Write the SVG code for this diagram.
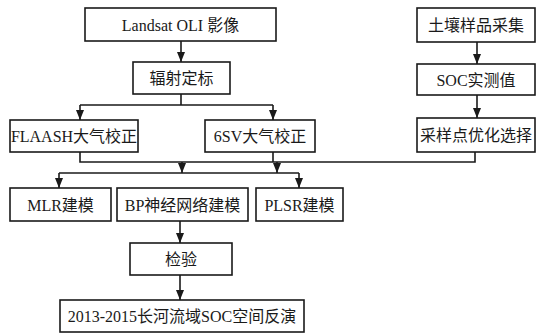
<svg xmlns="http://www.w3.org/2000/svg" width="537" height="334" viewBox="0 0 537 334">
<style>
.box{fill:#fff;stroke:#1a1a1a;stroke-width:1.6}
.t{font-family:"Liberation Serif","Noto Sans CJK SC",serif;font-size:16px;fill:#1a1a1a;text-anchor:middle}
.c{fill:none;stroke:#1a1a1a;stroke-width:1.6}
.a{marker-end:url(#arr)}
</style>
<defs>
<marker id="arr" markerUnits="userSpaceOnUse" markerWidth="10" markerHeight="10" viewBox="0 0 10 10" refX="10" refY="5" orient="auto">
<path d="M0,1 L10,5 L0,9 Z" fill="#1a1a1a"/>
</marker>
</defs>
<rect width="537" height="334" fill="#fff"/>
<g id="connectors">
<path class="c a" d="M181 41 V62"/>
<path class="c" d="M181 94 V105 M80 105 H273"/>
<path class="c a" d="M80 105 V120"/>
<path class="c a" d="M273 105 V120"/>
<path class="c" d="M80 152 V162 H475 V152 M273 152 V162"/>
<path class="c a" d="M182 162 V173"/>
<path class="c a" d="M277 162 V173"/>
<path class="c" d="M59 173 H299"/>
<path class="c a" d="M59 173 V188"/>
<path class="c a" d="M299 173 V188"/>
<path class="c a" d="M180 221 V243"/>
<path class="c a" d="M180 275 V300"/>
<path class="c a" d="M477 42 V64"/>
<path class="c a" d="M477 95 V118"/>
</g>
<g id="landsat"><rect class="box" x="85" y="8" width="191" height="33"/><text class="t" x="180.5" y="30.5">Landsat OLI 影像</text></g>
<g id="calib"><rect class="box" x="133" y="62" width="97" height="32"/><text class="t" x="181.5" y="84">辐射定标</text></g>
<g id="flaash"><rect class="box" x="10" y="120" width="128" height="32"/><text class="t" x="74" y="142">FLAASH大气校正</text></g>
<g id="sixsv"><rect class="box" x="205" y="120" width="110" height="32"/><text class="t" x="260" y="142">6SV大气校正</text></g>
<g id="soil"><rect class="box" x="417" y="8" width="118" height="34"/><text class="t" x="476" y="31">土壤样品采集</text></g>
<g id="socm"><rect class="box" x="417" y="64" width="118" height="31"/><text class="t" x="476" y="85.5">SOC实测值</text></g>
<g id="sample"><rect class="box" x="417" y="118" width="118" height="34"/><text class="t" x="476" y="141">采样点优化选择</text></g>
<g id="mlr"><rect class="box" x="10" y="188" width="101" height="33"/><text class="t" x="60.5" y="210.5">MLR建模</text></g>
<g id="bp"><rect class="box" x="117" y="188" width="131" height="33"/><text class="t" x="182.5" y="210.5">BP神经网络建模</text></g>
<g id="plsr"><rect class="box" x="256" y="188" width="87" height="33"/><text class="t" x="299.5" y="210.5">PLSR建模</text></g>
<g id="verify"><rect class="box" x="130" y="243" width="102" height="32"/><text class="t" x="181" y="265">检验</text></g>
<g id="result"><rect class="box" x="60" y="300" width="244" height="32"/><text class="t" x="182" y="322">2013-2015长河流域SOC空间反演</text></g>
</svg>
